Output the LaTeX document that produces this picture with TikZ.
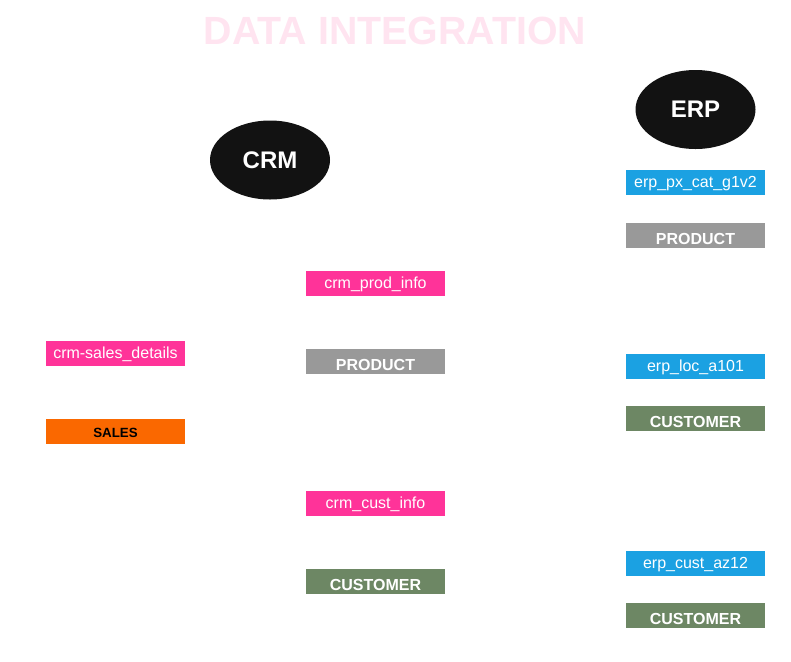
\documentclass[tikz,border=0pt]{standalone}
\usepackage{fontspec}
\setmainfont{Liberation Sans}
\usetikzlibrary{shapes.geometric}

\definecolor{titlepink}{HTML}{FFE4F0}
\definecolor{srcpink}{HTML}{FF3399}
\definecolor{srcblue}{HTML}{1BA1E2}
\definecolor{objgrey}{HTML}{999999}
\definecolor{objgreen}{HTML}{6D8764}
\definecolor{objorange}{HTML}{FA6800}
\definecolor{sysblack}{HTML}{121212}

\tikzset{
    table/.style={rectangle, minimum width=104.25pt, minimum height=18.75pt,
        inner sep=0pt, text=white, text height=10pt, text depth=2pt,
        font=\fontsize{12}{14}\selectfont},
    object/.style={table, text height=14pt, text depth=1.2pt,
        font=\bfseries\fontsize{12}{14}\selectfont},
    system/.style={ellipse, fill=sysblack, minimum width=90pt, minimum height=59.25pt,
        inner sep=0pt, text=white, font=\bfseries\fontsize{18}{21}\selectfont}
}

\begin{document}
\begin{tikzpicture}[x=0.75pt, y=-0.75pt]
    \useasboundingbox (0,0) rectangle (791,661);

    % title
    \node[text=titlepink, font=\bfseries\fontsize{29.5}{34}\selectfont] (title) at (395,31) {DATA INTEGRATION};

    % source systems
    \node[system] (crm) at (270,160) {CRM};
    \node[system] (erp) at (695.5,109.5) {ERP};

    % crm tables
    \node[table, fill=srcpink] (salesdetails) at (115.5,353.5) {crm-sales\_details};
    \node[object, fill=objorange, text=black, text height=10pt, text depth=0.7pt,
        font=\bfseries\fontsize{10}{12}\selectfont] (sales) at (115.5,431.5) {SALES};

    \node[table, fill=srcpink] (prodinfo) at (375.5,283.5) {crm\_prod\_info};
    \node[object, fill=objgrey] (crmproduct) at (375.5,361.5) {PRODUCT};

    \node[table, fill=srcpink] (custinfo) at (375.5,503.5) {crm\_cust\_info};
    \node[object, fill=objgreen] (crmcustomer) at (375.5,581.5) {CUSTOMER};

    % erp tables
    \node[table, fill=srcblue] (pxcat) at (695.5,182.5) {erp\_px\_cat\_g1v2};
    \node[object, fill=objgrey] (erpproduct) at (695.5,235.5) {PRODUCT};

    \node[table, fill=srcblue] (loc) at (695.5,366.5) {erp\_loc\_a101};
    \node[object, fill=objgreen] (loccustomer) at (695.5,418.5) {CUSTOMER};

    \node[table, fill=srcblue] (custaz) at (695.5,563.5) {erp\_cust\_az12};
    \node[object, fill=objgreen] (azcustomer) at (695.5,615.5) {CUSTOMER};
\end{tikzpicture}
\end{document}
